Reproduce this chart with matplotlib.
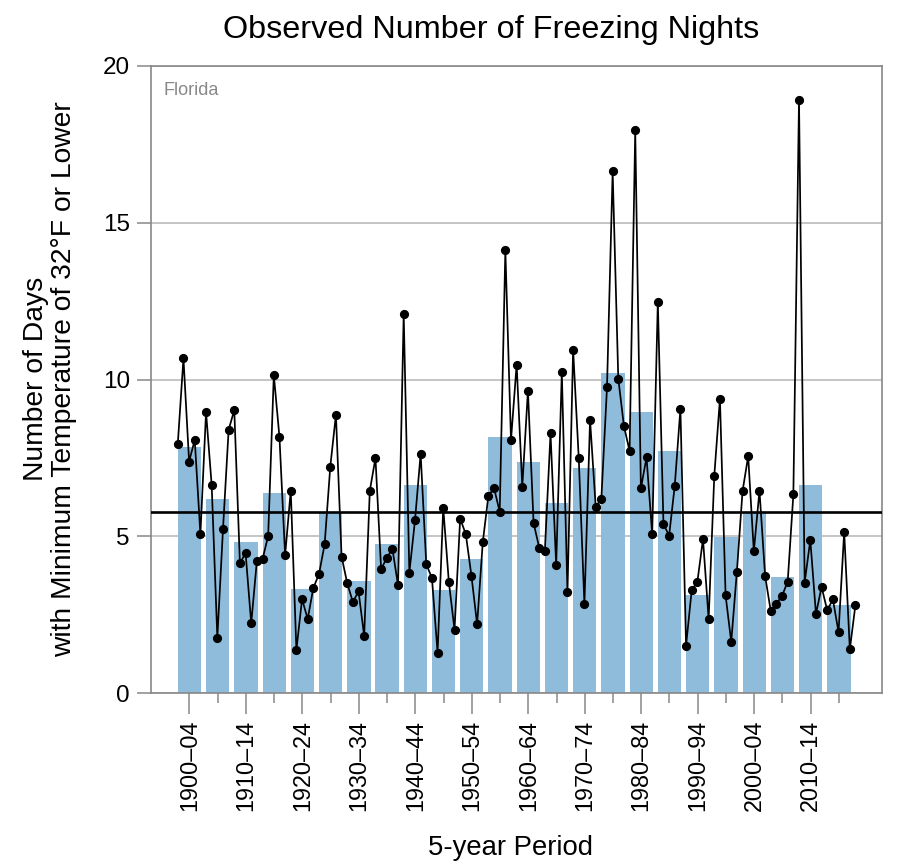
import numpy as np
import matplotlib
matplotlib.use('Agg')
import matplotlib.pyplot as plt

plt.rcParams['font.family'] = ['Liberation Sans', 'DejaVu Sans']

# annual values 1900-2020
years = list(range(1900, 2021))
nights = [
    7.96, 10.68, 7.39, 8.08, 5.07, 8.97, 6.63, 1.77, 5.23, 8.40,
    9.03, 4.14, 4.48, 2.23, 4.22, 4.27, 5.02, 10.15, 8.17, 4.40,
    6.46, 1.38, 3.00, 2.37, 3.36, 3.80, 4.75, 7.23, 8.88, 4.36,
    3.51, 2.91, 3.25, 1.83, 6.46, 7.50, 3.96, 4.31, 4.61, 3.44,
    12.10, 3.85, 5.51, 7.64, 4.11, 3.68, 1.29, 5.92, 3.54, 2.03,
    5.57, 5.07, 3.74, 2.20, 4.81, 6.30, 6.54, 5.79, 14.13, 8.07,
    10.48, 6.59, 9.65, 5.43, 4.64, 4.55, 8.29, 4.09, 10.23, 3.22,
    10.96, 7.49, 2.84, 8.72, 5.95, 6.20, 9.75, 16.64, 10.03, 8.52,
    7.72, 17.95, 6.53, 7.52, 5.08, 12.48, 5.39, 5.03, 6.62, 9.07,
    1.52, 3.29, 3.55, 4.92, 2.36, 6.94, 9.39, 3.12, 1.64, 3.88,
    6.44, 7.56, 4.53, 6.46, 3.74, 2.62, 2.86, 3.11, 3.56, 6.34,
    18.92, 3.53, 4.89, 2.53, 3.39, 2.64, 3.00, 1.95, 5.15, 1.40,
    2.83,
]

# 5-year period averages
period_start = list(range(1900, 2020, 5))
period_avg = [
    7.84, 6.20, 4.82, 6.40, 3.31, 5.76, 3.59, 4.76,
    6.64, 3.29, 4.28, 8.16, 7.36, 6.07, 7.19, 10.22,
    8.96, 7.72, 3.13, 4.99, 5.75, 3.70, 6.65, 2.83,
]
period_labels = ['%d\u2013%02d' % (s, (s + 4) % 100) for s in period_start]

long_term_avg = 5.79

bar_w = 4.13
gray = '#888888'

fig = plt.figure(figsize=(8.97, 8.65), dpi=100)
ax = fig.add_axes([150.7 / 897, 1 - 693.3 / 865, 731.6 / 897, 627.3 / 865])

ax.bar(period_start, period_avg, width=bar_w, align='edge', color='#8fbcdb', zorder=2)
ax.plot(years, nights, color='black', lw=1.25, marker='o', markersize=5.6, zorder=4)
ax.axhline(long_term_avg, color='black', lw=1.9, zorder=3)

ax.set_xlim(1895.2, 2024.75)
ax.set_ylim(0, 20)
ax.set_yticks([0, 5, 10, 15, 20])
ax.yaxis.grid(True, color='#bbbbbb', lw=1.2)
ax.set_axisbelow(True)

centers = [s + bar_w / 2 for s in period_start]
ax.set_xticks(centers[::2], period_labels[::2], rotation=90)
ax.set_xticks(centers[1::2], minor=True)

for sp in ax.spines.values():
    sp.set_color(gray)
    sp.set_linewidth(1.2)

ax.tick_params(axis='y', length=10, width=1.1, color=gray, pad=5, labelsize=17.5)
ax.tick_params(axis='x', which='major', length=15, width=1.1, color=gray, pad=4, labelsize=16.8)
ax.tick_params(axis='x', which='minor', length=7, width=1.1, color=gray)

ax.text(0.017, 0.975, 'Florida', transform=ax.transAxes, ha='left', va='top',
        fontsize=13, color=gray)

fig.text(491 / 897, 1 - 30 / 865, 'Observed Number of Freezing Nights',
         ha='center', va='center', fontsize=23.3)
fig.text(50 / 897, 0.5615, 'Number of Days\nwith Minimum Temperature of 32\u00b0F or Lower',
         rotation=90, ha='center', va='center', fontsize=20.3, linespacing=1.1)
fig.text(510 / 897, 1 - 848 / 865, '5-year Period', ha='center', va='center', fontsize=19.8)

fig.savefig('out.png', dpi=100)
